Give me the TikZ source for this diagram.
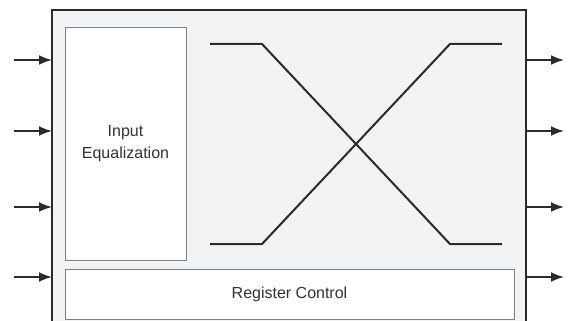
\documentclass[tikz,border=0pt]{standalone}
\usepackage{fontspec}
\setmainfont{Liberation Sans}
\usetikzlibrary{arrows.meta}
\definecolor{bgfill}{HTML}{F2F3F5}
\definecolor{edgedark}{HTML}{2B2B2B}
\definecolor{edgegray}{HTML}{808080}
\definecolor{txt}{HTML}{333333}
\begin{document}
\begin{tikzpicture}[x=1pt,y=-1pt,
  outerbox/.style={draw=edgedark,line width=2pt,fill=bgfill},
  innerbox/.style={draw=edgegray,line width=0.9pt,fill=white,text=txt,font=\fontsize{16}{22}\selectfont,align=center,inner sep=0pt},
  sig/.style={draw=edgedark,line width=2pt},
  io/.style={draw=edgedark,line width=1.8pt,-{Latex[length=13pt,width=10pt]}}]
\useasboundingbox (0,0) rectangle (568,321);
\path[outerbox] (52,10) rectangle (526,330);
\node[innerbox,minimum width=121pt,minimum height=233pt] (eq) at (125.5,143.5) {Input\\Equalization};
\node[innerbox,minimum width=449pt,minimum height=50pt] (reg) at (289.5,294) {Register Control};
% crossbar
\coordinate (tl1) at (210,44); \coordinate (tl2) at (262,44);
\coordinate (br1) at (450,244); \coordinate (br2) at (502,244);
\coordinate (bl1) at (210,244); \coordinate (bl2) at (262,244);
\coordinate (tr1) at (450,44); \coordinate (tr2) at (502,44);
\draw[sig] (tl1) -- (tl2) -- (br1) -- (br2);
\draw[sig] (bl1) -- (bl2) -- (tr1) -- (tr2);
% inputs / outputs
\foreach \yy [count=\i] in {60,131,207,277}{
  \coordinate (in\i) at (14,\yy);
  \coordinate (ie\i) at (52,\yy);
  \coordinate (os\i) at (526,\yy);
  \coordinate (oe\i) at (564,\yy);
  \draw[io] (in\i) -- (ie\i);
  \draw[io] (os\i) -- (oe\i);
}
\end{tikzpicture}
\end{document}
